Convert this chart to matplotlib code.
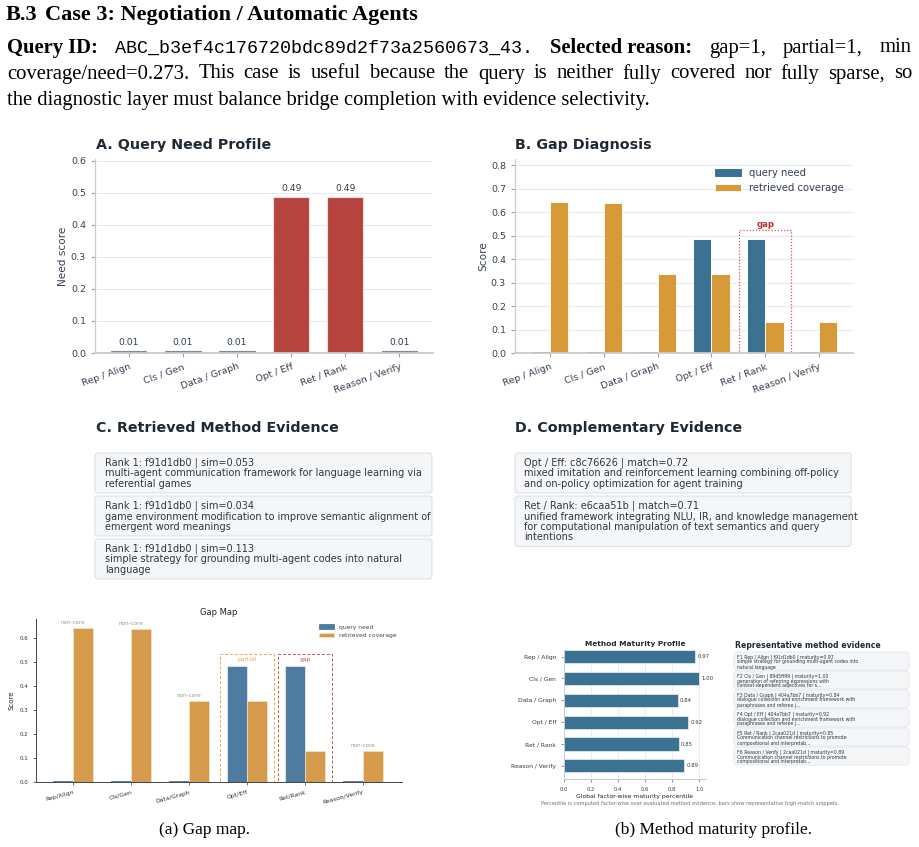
import numpy as np
import matplotlib
matplotlib.use("Agg")
import matplotlib.pyplot as plt
from matplotlib.patches import FancyBboxPatch, Rectangle

# ---------------- data ----------------
factors = ["Rep / Align", "Cls / Gen", "Data / Graph", "Opt / Eff", "Ret / Rank", "Reason / Verify"]
factors_short = ["Rep/Align", "Cls/Gen", "Data/Graph", "Opt/Eff", "Ret/Rank", "Reason/Verify"]
need = [0.006, 0.006, 0.006, 0.486, 0.486, 0.006]
coverage = [0.643, 0.637, 0.338, 0.338, 0.131, 0.131]
status = ["non-core", "non-core", "non-core", "partial", "gap", "non-core"]
maturity = [0.97, 1.00, 0.84, 0.92, 0.85, 0.89]

retrieved = [
    ["Rank 1: f91d1db0 | sim=0.053",
     "multi-agent communication framework for language learning via",
     "referential games"],
    ["Rank 1: f91d1db0 | sim=0.034",
     "game environment modification to improve semantic alignment of",
     "emergent word meanings"],
    ["Rank 1: f91d1db0 | sim=0.113",
     "simple strategy for grounding multi-agent codes into natural",
     "language"],
]
complementary = [
    ["Opt / Eff: c8c76626 | match=0.72",
     "mixed imitation and reinforcement learning combining off-policy",
     "and on-policy optimization for agent training"],
    ["Ret / Rank: e6caa51b | match=0.71",
     "unified framework integrating NLU, IR, and knowledge management",
     "for computational manipulation of text semantics and query",
     "intentions"],
]
representative = [
    ["F1 Rep / Align | f91d1db0 | maturity=0.97",
     "simple strategy for grounding multi-agent codes into",
     "natural language"],
    ["F2 Cls / Gen | 89d5ff99 | maturity=1.00",
     "generation of referring expressions with",
     "context-dependent adjectives for s..."],
    ["F3 Data / Graph | 404a7bb7 | maturity=0.84",
     "dialogue collection and enrichment framework with",
     "paraphrases and referee j..."],
    ["F4 Opt / Eff | 404a7bb7 | maturity=0.92",
     "dialogue collection and enrichment framework with",
     "paraphrases and referee j..."],
    ["F5 Ret / Rank | 2caa021d | maturity=0.85",
     "Communication channel restrictions to promote",
     "compositional and interpretab..."],
    ["F6 Reason / Verify | 2caa021d | maturity=0.89",
     "Communication channel restrictions to promote",
     "compositional and interpretab..."],
]

# ---------------- styles ----------------
W, H = 920, 847
plt.rcParams['font.family'] = ['DejaVu Sans']
SERIF = ['Liberation Serif', 'DejaVu Serif']
MONO = ['Liberation Mono', 'DejaVu Sans Mono']
TITLE_C = '#1f2933'
TXT_C = '#2f3640'
RED = '#b5443f'
GRAY_BAR = '#7b8b9a'
BLUE = '#3c7291'
ORANGE = '#d69a38'
GM_BLUE = '#4f7ba1'
GM_ORANGE = '#d59a4c'
GRID_C = '#e6e9ef'
SPINE_C = '#c5cbd3'

fig = plt.figure(figsize=(W / 100, H / 100), dpi=100)
fig.patch.set_facecolor('white')

ax_bg = fig.add_axes([0, 0, 1, 1])
ax_bg.set_xlim(0, W)
ax_bg.set_ylim(H, 0)
ax_bg.axis('off')


def px_axes(left, top, right, bottom):
    return fig.add_axes([left / W, 1 - bottom / H, (right - left) / W, (bottom - top) / H])


renderer = fig.canvas.get_renderer()


def place_words(words, y, x0, x1=None, gap=None):
    objs = [ax_bg.text(0, y, w, va='center', ha='left', **kw) for w, kw in words]
    widths = [t.get_window_extent(renderer).width for t in objs]
    if x1 is not None and len(objs) > 1:
        gap = (x1 - x0 - sum(widths)) / (len(objs) - 1)
    x = x0
    for t, wd in zip(objs, widths):
        t.set_x(x)
        x += wd + gap


# ---------------- header text ----------------
ax_bg.text(6, 15, "B.3", fontsize=16, weight='bold', family=SERIF, va='center', color='black')
ax_bg.text(45, 15, "Case 3: Negotiation / Automatic Agents", fontsize=16, weight='bold',
           family=SERIF, va='center', color='black')

bold = dict(fontsize=14.9, weight='bold', family=SERIF, color='black')
norm = dict(fontsize=14.9, family=SERIF, color='black')
mono = dict(fontsize=13.2, family=MONO, color='black')
line2 = [("Query ID:", bold), ("ABC_b3ef4c176720bdc89d2f73a2560673_43.", mono),
         ("Selected reason:", bold), ("gap=1,", norm), ("partial=1,", norm), ("min", norm)]
place_words(line2, 48, 7, 912)
line3 = "coverage/need=0.273. This case is useful because the query is neither fully covered nor fully sparse, so"
place_words([(w, norm) for w in line3.split()], 74, 7, 912)
ax_bg.text(7, 100, "the diagnostic layer must balance bridge completion with evidence selectivity.",
           va='center', **norm)


def style_axes(ax, fs=6.8):
    for s in ['top', 'right']:
        ax.spines[s].set_visible(False)
    for s in ['left', 'bottom']:
        ax.spines[s].set_color(SPINE_C)
    ax.spines['bottom'].set_linewidth(1.3)
    ax.spines['left'].set_linewidth(0.9)
    ax.tick_params(labelsize=fs, colors='#9aa3ad', labelcolor='#374151', length=3, width=0.8)
    ax.yaxis.grid(True, color=GRID_C, lw=0.8)
    ax.set_axisbelow(True)


def edge_for(vals, color, light='white'):
    return [color if v < 0.05 else light for v in vals]


x = np.arange(len(factors))

# ---------------- Panel A ----------------
axA = px_axes(95, 159, 433, 353)
colsA = [RED if v > 0.1 else GRAY_BAR for v in need]
edgesA = ['#f3dcdc' if v > 0.1 else GRAY_BAR for v in need]
axA.bar(x, need, width=0.66, color=colsA, edgecolor=edgesA, linewidth=0.8)
for xi, v in zip(x, need):
    axA.text(xi, v + 0.012, f"{v:.2f}", ha='center', va='bottom', fontsize=6.6, color='#333a44')
axA.set_xlim(-0.62, 5.62)
axA.set_ylim(0, 0.605)
axA.set_yticks(np.arange(0, 0.61, 0.1))
axA.set_xticks(x)
axA.set_xticklabels(factors, rotation=20, ha='right', rotation_mode='anchor')
axA.set_ylabel("Need score", fontsize=7.6, color='#374151', labelpad=2)
style_axes(axA)
ax_bg.text(96, 145, "A. Query Need Profile", fontsize=10.3, weight='bold', color=TITLE_C, va='center')

# ---------------- Panel B ----------------
axB = px_axes(515, 159, 853, 353)
bw = 0.34
axB.bar(x - bw / 2, need, width=bw, color=BLUE, edgecolor=edge_for(need, BLUE), linewidth=0.7,
        label='query need')
axB.bar(x + bw / 2, coverage, width=bw, color=ORANGE, edgecolor='white', linewidth=0.6,
        label='retrieved coverage')
for i, s in enumerate(status):
    if s == 'gap':
        top = max(need[i], coverage[i]) * 1.075
        axB.add_patch(Rectangle((i - 0.48, 0), 0.96, top, fill=False, ec='#d0575a',
                                ls=(0, (1, 1.5)), lw=0.9))
        axB.text(i, top + 0.005, "gap", ha='center', va='bottom', fontsize=6.2,
                 weight='bold', color='#b83232')
axB.set_xlim(-0.65, 5.63)
axB.set_ylim(0, 0.826)
axB.set_yticks(np.arange(0, 0.81, 0.1))
axB.set_xticks(x)
axB.set_xticklabels(factors, rotation=20, ha='right', rotation_mode='anchor')
axB.set_ylabel("Score", fontsize=7.6, color='#374151', labelpad=2)
style_axes(axB)
axB.legend(loc='upper right', bbox_to_anchor=(1.0, 1.0), frameon=False, fontsize=7.2,
           handlelength=2.6, handleheight=0.8, labelcolor='#374151')
ax_bg.text(515, 145, "B. Gap Diagnosis", fontsize=10.3, weight='bold', color=TITLE_C, va='center')


# ---------------- evidence boxes ----------------
def evidence_box(x0, x1, top, lines, fs, line_h, first_off, pad_x, bottom_pad, lw=0.8):
    h = first_off + line_h * (len(lines) - 1) + bottom_pad
    ax_bg.add_patch(FancyBboxPatch((x0, top), x1 - x0, h, boxstyle="round,pad=0,rounding_size=3",
                                   fc='#f5f6f8', ec='#dde1e6', lw=lw))
    for i, ln in enumerate(lines):
        ax_bg.text(x0 + pad_x, top + first_off + i * line_h, ln, va='center', ha='left',
                   fontsize=fs, color=TXT_C)
    return top + h


ax_bg.text(96, 428, "C. Retrieved Method Evidence", fontsize=10.3, weight='bold', color=TITLE_C, va='center')
t = 453
for lines in retrieved:
    t = evidence_box(95, 432, t, lines, 7, 10.5, 10, 10, 9) + 3

ax_bg.text(515, 428, "D. Complementary Evidence", fontsize=10.3, weight='bold', color=TITLE_C, va='center')
t = 453
for lines in complementary:
    t = evidence_box(515, 851, t, lines, 7, 10.5, 10, 9, 9) + 3

# ---------------- Gap map (bottom left) ----------------
axG = px_axes(36, 619, 402, 782)
gw = 0.35
axG.bar(x - gw / 2, need, width=gw, color=GM_BLUE, edgecolor=edge_for(need, GM_BLUE, '#dfe7ef'),
        linewidth=0.6, label='query need')
axG.bar(x + gw / 2, coverage, width=gw, color=GM_ORANGE, edgecolor='#f3e2c8', linewidth=0.5,
        label='retrieved coverage')
for i, s in enumerate(status):
    top = max(need[i], coverage[i])
    if s == 'non-core':
        axG.text(i, top + 0.012, "non-core", ha='center', va='bottom', fontsize=4.1, color='#9a9a9a')
    else:
        c = '#e8a94f' if s == 'partial' else '#c9504f'
        axG.add_patch(Rectangle((i - 0.47, 0), 0.94, top + 0.05, fill=False, ec=c, ls=(0, (3, 2)), lw=0.7))
        axG.text(i, top + 0.026, s, ha='center', va='center', fontsize=4.3, color=c)
axG.set_xlim(-0.64, 5.67)
axG.set_ylim(0, 0.68)
axG.set_yticks(np.arange(0, 0.61, 0.1))
axG.set_xticks(x)
axG.set_xticklabels(factors_short, rotation=15, ha='right', rotation_mode='anchor', fontsize=4.4)
axG.tick_params(axis='y', labelsize=4.0)
axG.tick_params(length=2, width=0.5, colors='#333333')
for s in ['top', 'right']:
    axG.spines[s].set_visible(False)
for s in ['left', 'bottom']:
    axG.spines[s].set_color('#444444')
    axG.spines[s].set_linewidth(0.7)
axG.set_ylabel("Score", fontsize=5, color='#222222')
axG.set_title("Gap Map", fontsize=6, color='#222222', pad=3)
axG.legend(loc='upper right', bbox_to_anchor=(1.0, 1.0), frameon=False, fontsize=4.3,
           handlelength=2.5, handleheight=0.8, labelcolor='#444444')
ax_bg.text(205, 830, "(a) Gap map.", fontsize=12.5, family=SERIF, ha='center', va='center')

# ---------------- Method maturity (bottom right) ----------------
axM = px_axes(564, 650, 706, 779)
axM.barh(x, maturity, height=0.6, color=BLUE, edgecolor='#dfe6ee', linewidth=0.6)
for yi, v in zip(x, maturity):
    axM.text(v + 0.015, yi, f"{v:.2f}", va='center', ha='left', fontsize=3.9, color='#333a44')
axM.set_xlim(0, 1.05)
axM.set_ylim(5.6, -0.3)
axM.set_xticks(np.arange(0, 1.01, 0.2))
axM.set_yticks(x)
axM.set_yticklabels(factors)
for s in ['top', 'right']:
    axM.spines[s].set_visible(False)
for s in ['left', 'bottom']:
    axM.spines[s].set_color(SPINE_C)
    axM.spines[s].set_linewidth(0.7)
axM.tick_params(axis='y', labelsize=4.3, colors='#666666', labelcolor='#333a44', length=2, width=0.5)
axM.tick_params(axis='x', labelsize=3.8, colors='#666666', labelcolor='#333a44', length=2, width=0.5)
axM.xaxis.grid(True, color=GRID_C, lw=0.6)
axM.set_axisbelow(True)
axM.set_xlabel("Global factor-wise maturity percentile", fontsize=4.4, color='#222222', labelpad=2)
axM.set_title("Method Maturity Profile", fontsize=5.3, weight='bold', color=TITLE_C, pad=3)
ax_bg.text(690, 804, "Percentile is computed factor-wise over evaluated method evidence; bars show "
           "representative high-match snippets.", fontsize=3.7, color='#6b7280', ha='center', va='center')

ax_bg.text(735, 645, "Representative method evidence", fontsize=5.6, weight='bold', color=TITLE_C, va='center')
t = 652
for lines in representative:
    t = evidence_box(734, 909, t, lines, 3.3, 5, 5, 3, 3, lw=0.5) + 1

ax_bg.text(714, 830, "(b) Method maturity profile.", fontsize=12.5, family=SERIF, ha='center', va='center')

fig.savefig("out.png", dpi=100)
